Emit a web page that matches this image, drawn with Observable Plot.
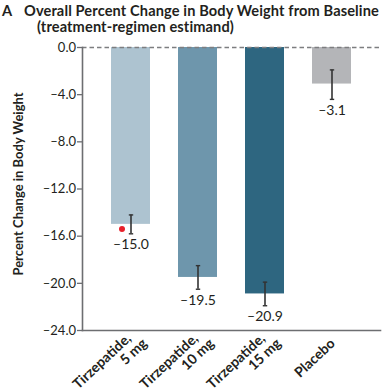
<!DOCTYPE html>
<html>
<head>
<meta charset="utf-8">
<script src="https://cdn.jsdelivr.net/npm/d3@7"></script>
<script src="https://cdn.jsdelivr.net/npm/@observablehq/plot@0.6"></script>
<style>
  html, body { margin: 0; padding: 0; background: #fff; }
  #wrap { width: 391px; height: 391px; overflow: hidden; }
  #title { height: 38px; box-sizing: border-box; padding-top: 3px; font-family: Lato, "Liberation Sans", sans-serif; font-weight: bold; font-size: 14.6px; letter-spacing: 0.12px; line-height: 16px; color: #231f20; white-space: nowrap; }
  #title .panel { display: inline-block; width: 24px; padding-left: 2px; box-sizing: border-box; letter-spacing: 0; }
  #title .sub { padding-left: 37px; }
  svg { display: block; }
</style>
</head>
<body>
<div id="wrap">
  <div id="title"><span class="panel">A</span>Overall Percent Change in Body Weight from Baseline<br><span class="sub">(treatment-regimen estimand)</span></div>
  <div id="chart"></div>
</div>
<script>
// ---- data ----
const groups = ["Tirzepatide, 5 mg", "Tirzepatide, 10 mg", "Tirzepatide, 15 mg", "Placebo"];
const tickLabels = ["Tirzepatide,\n5 mg", "Tirzepatide,\n10 mg", "Tirzepatide,\n15 mg", "Placebo"];
const changes = [-15.0, -19.5, -20.9, -3.1];
const ciUpper = [-14.2, -18.5, -19.9, -1.9];
const ciLower = [-15.8, -20.5, -21.9, -4.4];
const barColors = ["#adc3d0", "#6e96ac", "#2e6680", "#b4b5b8"];
const yTicks = [0, -4, -8, -12, -16, -20, -24];
const yTitle = "Percent Change in Body Weight";
const markerGroup = ["Tirzepatide, 5 mg"];
const markerValue = [-15.4];

const fmt = v => v === 0 ? "0.0" : "\u2013" + Math.abs(v).toFixed(1);

const rows = groups.map((g, i) => ({group: g, change: changes[i], hi: ciUpper[i], lo: ciLower[i], lines: tickLabels[i].split("\n")}));
const twoLine = rows.filter(d => d.lines.length === 2);
const oneLine = rows.filter(d => d.lines.length === 1);
const markers = markerGroup.map((g, i) => ({group: g, value: markerValue[i]}));

const font = "Lato, 'Liberation Sans', sans-serif";
const ink = "#231f20";
const axisGray = "#6d6e71";
// small horizontal cap symbol for error bars
const capSymbol = {draw(context) { context.moveTo(-2.2, 0); context.lineTo(2.2, 0); }};
const labelAngle = -43;

const chart = Plot.plot({
  width: 391,
  height: 353,
  marginTop: 9,
  marginBottom: 61,
  marginLeft: 82,
  marginRight: 11,
  style: {fontFamily: font, fontSize: "12px", color: ink, background: "#fff", overflow: "visible"},
  x: {domain: groups, padding: 0.42, axis: null},
  y: {domain: [-24, 0], axis: null},
  color: {domain: groups, range: barColors},
  marks: [
    Plot.barY(rows, {x: "group", y: "change", fill: "group"}),
    Plot.ruleY([0], {stroke: "#7d7e80", strokeWidth: 1.5, strokeDasharray: "4.5,3"}),
    Plot.ruleX(rows, {x: "group", y1: "lo", y2: "hi", stroke: "#333", strokeWidth: 1.6}),
    Plot.dot(rows, {x: "group", y: "hi", symbol: capSymbol, stroke: "#333", strokeWidth: 1.4, fill: "none"}),
    Plot.dot(rows, {x: "group", y: "lo", symbol: capSymbol, stroke: "#333", strokeWidth: 1.4, fill: "none"}),
    Plot.text(rows, {x: "group", y: "lo", text: d => fmt(d.change), dy: 11, fontSize: 14, fill: ink}),
    Plot.dot(markers, {x: "group", y: "value", dx: -9, r: 3, fill: "#e8202a", stroke: null}),
    Plot.frame({anchor: "left", stroke: axisGray, strokeWidth: 1.6}),
    Plot.frame({anchor: "bottom", stroke: axisGray, strokeWidth: 1.6}),
    Plot.axisY({ticks: yTicks, tickFormat: fmt, tickSize: 5, tickPadding: 1.5, stroke: axisGray, strokeWidth: 1.3, fill: ink, fontSize: 13, label: null}),
    Plot.text([yTitle], {frameAnchor: "left", textAnchor: "middle", rotate: -90, dx: -64, dy: -5, fontWeight: "bold", fontSize: 13, fill: ink}),
    // x tick labels (two-line ones drawn as two rotated lines)
    Plot.text(twoLine, {x: "group", frameAnchor: "bottom", text: d => d.lines[0], rotate: labelAngle, textAnchor: "end", lineAnchor: "bottom", dx: 1, dy: 9, fontWeight: "bold", fontSize: 14, fill: ink}),
    Plot.text(twoLine, {x: "group", frameAnchor: "bottom", text: d => d.lines[1], rotate: labelAngle, textAnchor: "end", lineAnchor: "bottom", dx: 17, dy: 14, fontWeight: "bold", fontSize: 14, fill: ink}),
    Plot.text(oneLine, {x: "group", frameAnchor: "bottom", text: d => d.lines[0], rotate: labelAngle, textAnchor: "end", lineAnchor: "bottom", dx: 4, dy: 14, fontWeight: "bold", fontSize: 14, fill: ink})
  ]
});
document.getElementById("chart").appendChild(chart);
</script>
</body>
</html>
